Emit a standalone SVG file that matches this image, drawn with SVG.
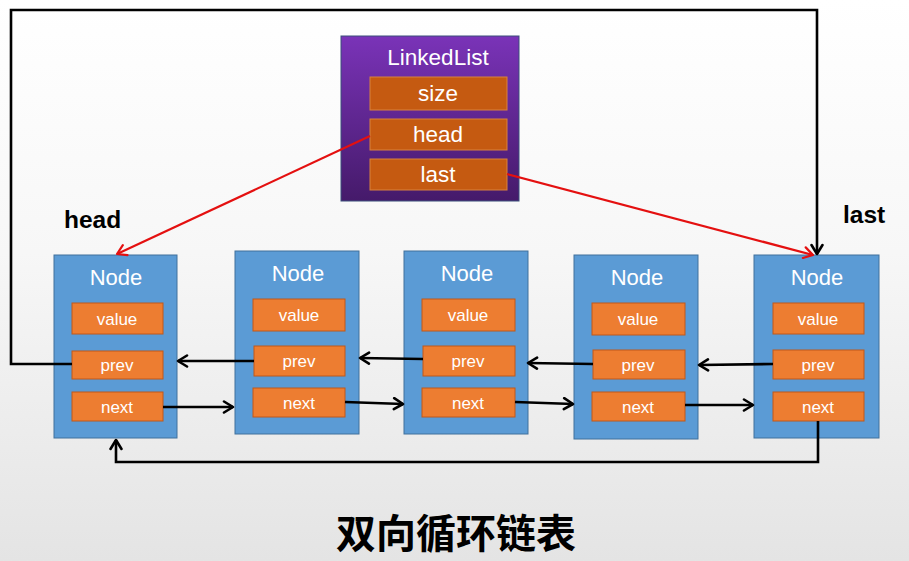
<svg xmlns="http://www.w3.org/2000/svg" width="909" height="561" viewBox="0 0 909 561">
<defs>
<linearGradient id="bg" x1="0" y1="0" x2="0" y2="1">
<stop offset="0" stop-color="#ffffff"/>
<stop offset="0.45" stop-color="#f7f7f7"/>
<stop offset="1" stop-color="#e4e4e4"/>
</linearGradient>
<linearGradient id="purple" x1="0" y1="0" x2="0" y2="1">
<stop offset="0" stop-color="#7a33b8"/>
<stop offset="1" stop-color="#451a6a"/>
</linearGradient>
<marker id="ab" viewBox="0 0 14 14" refX="12" refY="7" markerWidth="14" markerHeight="14" markerUnits="userSpaceOnUse" orient="auto">
<path d="M3,1.5 L12,7 L3,12.5" fill="none" stroke="#000" stroke-width="2.6" stroke-linecap="round" stroke-linejoin="round"/>
</marker>
<marker id="ar" viewBox="0 0 14 14" refX="12" refY="7" markerWidth="14" markerHeight="14" markerUnits="userSpaceOnUse" orient="auto">
<path d="M3,1.5 L12,7 L3,12.5" fill="none" stroke="#e41010" stroke-width="2.2" stroke-linecap="round" stroke-linejoin="round"/>
</marker>
</defs>
<style>
.node{fill:#5b9bd5;stroke:#41719c;stroke-width:1}
.fld{fill:#ed7d31;stroke:#c0581a;stroke-width:1}
.lfld{fill:#c55a11;stroke:#d8823e;stroke-width:1}
.t{font-family:"Liberation Sans",Arial,sans-serif;fill:#fff;text-anchor:middle}
.nt{font-size:22px}
.ft{font-size:17px}
.lt{font-size:22.5px}
.blk{fill:none;stroke:#000;stroke-width:2.6}
.red{fill:none;stroke:#e41010;stroke-width:2.2}
.lab{font-family:"Liberation Sans",Arial,sans-serif;font-weight:bold;font-size:24.5px;fill:#000}
</style>
<rect x="0" y="0" width="909" height="561" fill="url(#bg)"/>

<g id="linkedlist">
<rect x="341" y="36" width="178" height="165" fill="url(#purple)" stroke="#3b4f7a" stroke-width="1"/>
<text class="t lt" x="438" y="65">LinkedList</text>
<rect class="lfld" x="370" y="77" width="137" height="33"/>
<text class="t lt" x="438" y="101">size</text>
<rect class="lfld" x="370" y="119" width="137" height="31"/>
<text class="t lt" x="438" y="142">head</text>
<rect class="lfld" x="370" y="159" width="137" height="31"/>
<text class="t lt" x="438" y="182">last</text>
</g>

<g id="node1">
<rect class="node" x="54" y="255" width="123" height="183"/>
<text class="t nt" x="116" y="285">Node</text>
<rect class="fld" x="72" y="303" width="91" height="31"/>
<text class="t ft" x="117" y="325">value</text>
<rect class="fld" x="72" y="351" width="91" height="28"/>
<text class="t ft" x="117" y="371">prev</text>
<rect class="fld" x="72" y="392" width="91" height="29"/>
<text class="t ft" x="117" y="413">next</text>
</g>

<g id="node2">
<rect class="node" x="235" y="251" width="124" height="183"/>
<text class="t nt" x="298" y="281">Node</text>
<rect class="fld" x="253" y="299" width="92" height="32"/>
<text class="t ft" x="299" y="321">value</text>
<rect class="fld" x="254" y="346" width="91" height="30"/>
<text class="t ft" x="299" y="367">prev</text>
<rect class="fld" x="253" y="388" width="92" height="29"/>
<text class="t ft" x="299" y="409">next</text>
</g>

<g id="node3">
<rect class="node" x="404" y="251" width="124" height="183"/>
<text class="t nt" x="467" y="281">Node</text>
<rect class="fld" x="422" y="299" width="93" height="32"/>
<text class="t ft" x="468" y="321">value</text>
<rect class="fld" x="423" y="346" width="92" height="30"/>
<text class="t ft" x="468" y="367">prev</text>
<rect class="fld" x="422" y="388" width="93" height="29"/>
<text class="t ft" x="468" y="409">next</text>
</g>

<g id="node4">
<rect class="node" x="574" y="255" width="124" height="184"/>
<text class="t nt" x="637" y="285">Node</text>
<rect class="fld" x="592" y="303" width="93" height="32"/>
<text class="t ft" x="638" y="325">value</text>
<rect class="fld" x="593" y="350" width="92" height="29"/>
<text class="t ft" x="638" y="371">prev</text>
<rect class="fld" x="592" y="392" width="93" height="29"/>
<text class="t ft" x="638" y="413">next</text>
</g>

<g id="node5">
<rect class="node" x="754" y="255" width="125" height="183"/>
<text class="t nt" x="817" y="285">Node</text>
<rect class="fld" x="773" y="303" width="91" height="31"/>
<text class="t ft" x="818" y="325">value</text>
<rect class="fld" x="773" y="350" width="91" height="29"/>
<text class="t ft" x="818" y="371">prev</text>
<rect class="fld" x="773" y="392" width="91" height="29"/>
<text class="t ft" x="818" y="413">next</text>
</g>

<g id="connectors">
<polyline class="blk" points="72,364 11,364 11,10 817,10 817,254" marker-end="url(#ab)"/>
<polyline class="blk" points="818,421 818,462 116,462 116,440" marker-end="url(#ab)"/>
<line class="blk" x1="163" y1="407" x2="233" y2="407" marker-end="url(#ab)"/>
<line class="blk" x1="345" y1="402" x2="403" y2="404" marker-end="url(#ab)"/>
<line class="blk" x1="515" y1="402" x2="573" y2="404" marker-end="url(#ab)"/>
<line class="blk" x1="685" y1="405" x2="753" y2="405" marker-end="url(#ab)"/>
<line class="blk" x1="254" y1="361" x2="178" y2="361" marker-end="url(#ab)"/>
<line class="blk" x1="423" y1="359" x2="360" y2="358" marker-end="url(#ab)"/>
<line class="blk" x1="593" y1="364" x2="528" y2="363" marker-end="url(#ab)"/>
<line class="blk" x1="773" y1="364" x2="699" y2="365" marker-end="url(#ab)"/>
<line class="red" x1="370" y1="136" x2="117" y2="254" marker-end="url(#ar)"/>
<line class="red" x1="507" y1="174" x2="813" y2="255" marker-end="url(#ar)"/>
</g>

<text class="lab" x="64" y="228">head</text>
<text class="lab" x="843" y="223">last</text>
<text x="456" y="548" text-anchor="middle" font-family="'Noto Sans CJK SC','Noto Sans CJK JP',sans-serif" font-weight="bold" font-size="40" fill="#000">双向循环链表</text>
</svg>
